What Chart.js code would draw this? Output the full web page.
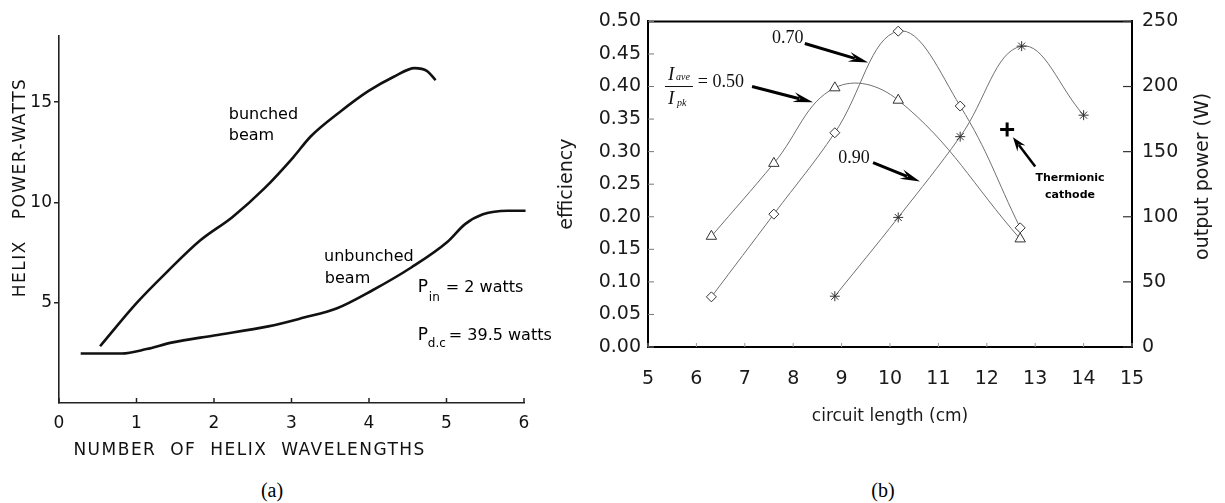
<!DOCTYPE html>
<html>
<head>
<meta charset="utf-8">
<script src="https://cdn.jsdelivr.net/npm/chart.js@4.4.1/dist/chart.umd.min.js"></script>
<style>
  html, body { margin: 0; padding: 0; background: #fff; }
  body { width: 1225px; height: 503px; position: relative; overflow: hidden; }
  #leftWrap { position: absolute; left: 0; top: 0; width: 555px; height: 470px; }
  #rightWrap { position: absolute; left: 555px; top: 0; width: 670px; height: 440px; }
  .cap { position: absolute; top: 479px; font-family: "Liberation Serif", "DejaVu Serif", serif; font-size: 20px; color: #000; transform: translateX(-50%); }
</style>
</head>
<body>
<div id="leftWrap"><canvas id="helixChart"></canvas></div>
<div id="rightWrap"><canvas id="effChart"></canvas></div>
<div class="cap" style="left:272px">(a)</div>
<div class="cap" style="left:883px">(b)</div>

<script>
// (a) helix power vs number of helix wavelengths
const bunchedX   = [0.53, 1.0, 1.41, 1.82, 2.24, 2.65, 3.02, 3.25, 3.62, 3.99, 4.32, 4.59, 4.75, 4.86];
const bunchedY   = [2.83, 4.98, 6.6, 8.1, 9.28, 10.7, 12.24, 13.3, 14.5, 15.55, 16.27, 16.7, 16.55, 16.1];
const unbunchedX = [0.28, 0.81, 1.13, 1.45, 2.0, 2.7, 3.16, 3.58, 4.04, 4.55, 5.01, 5.24, 5.47, 5.79, 6.02, 6.25];
const unbunchedY = [2.47, 2.47, 2.69, 3.01, 3.37, 3.82, 4.26, 4.71, 5.61, 6.77, 8.03, 8.92, 9.41, 9.59, 9.59, 9.46];
const powerTicks = [5, 10, 15];

// (b) efficiency vs circuit length, Iave/Ipk = 0.50 / 0.70 / 0.90
const lengthTri  = [6.31, 7.60, 8.86, 10.17, 12.69];
const effTri     = [0.170, 0.282, 0.398, 0.379, 0.166];
const lengthDia  = [6.31, 7.60, 8.86, 10.17, 11.45, 12.69];
const effDia     = [0.077, 0.204, 0.329, 0.485, 0.370, 0.183];
const lengthStar = [8.86, 10.17, 11.45, 12.72, 14.0];
const effStar    = [0.078, 0.199, 0.323, 0.462, 0.356];
const thermionicLength = [12.42];
const thermionicEff    = [0.334];

const pts = (xs, ys) => xs.map((x, i) => ({ x, y: ys[i] }));

Chart.defaults.font.family = '"DejaVu Sans", sans-serif';
Chart.defaults.color = '#1a1a1a';

// ticks pointing into the plot
const innerTicks = {
  id: 'innerTicks',
  afterDraw(chart, args, opts) {
    const ctx = chart.ctx;
    (opts.items || []).forEach(it => {
      const sc = chart.scales[it.id];
      ctx.save();
      ctx.strokeStyle = it.color;
      ctx.lineWidth = it.width;
      sc.ticks.forEach(t => {
        const p = sc.getPixelForValue(t.value);
        ctx.beginPath();
        if (sc.isHorizontal()) { ctx.moveTo(p, sc.top); ctx.lineTo(p, sc.top - it.len); }
        else if (sc.position === 'left') { ctx.moveTo(sc.right, p); ctx.lineTo(sc.right + it.len, p); }
        else { ctx.moveTo(sc.left, p); ctx.lineTo(sc.left - it.len, p); }
        ctx.stroke();
      });
      ctx.restore();
    });
  }
};

function arrow(ctx, x1, y1, x2, y2, lw, L, W) {
  const a = Math.atan2(y2 - y1, x2 - x1);
  const c = Math.cos(a), s = Math.sin(a);
  ctx.lineWidth = lw;
  ctx.beginPath();
  ctx.moveTo(x1, y1);
  ctx.lineTo(x2 - L * 0.7 * c, y2 - L * 0.7 * s);
  ctx.stroke();
  ctx.beginPath();
  ctx.moveTo(x2, y2);
  ctx.lineTo(x2 - L * c + W * s, y2 - L * s - W * c);
  ctx.lineTo(x2 - L * 0.65 * c, y2 - L * 0.65 * s);
  ctx.lineTo(x2 - L * c - W * s, y2 - L * s + W * c);
  ctx.closePath();
  ctx.fill();
}

// labels for chart (a)
const helixNotes = {
  id: 'helixNotes',
  afterDraw(chart) {
    const { ctx, scales: { x, y } } = chart;
    const X = v => x.getPixelForValue(v), Y = v => y.getPixelForValue(v);
    ctx.save();
    ctx.fillStyle = '#000';
    ctx.textBaseline = 'middle';
    ctx.textAlign = 'left';
    ctx.font = '16px "DejaVu Sans"';
    ctx.fillText('bunched', X(2.19), Y(14.35));
    ctx.fillText('beam', X(2.19), Y(13.3));
    ctx.fillText('unbunched', X(3.42), Y(7.3));
    ctx.fillText('beam', X(3.43), Y(6.2));

    ctx.font = '17px "DejaVu Sans"';
    ctx.fillText('P', X(4.63), Y(5.75));
    ctx.fillText('P', X(4.63), Y(3.35));
    ctx.font = '16px "DejaVu Sans"';
    ctx.fillText('= 2 watts', X(4.63) + 28, Y(5.75));
    ctx.fillText('= 39.5 watts', X(4.63) + 31, Y(3.35));
    ctx.font = '12px "DejaVu Sans"';
    ctx.fillText('in', X(4.63) + 11, Y(5.75) + 10);
    ctx.fillText('d.c', X(4.63) + 10, Y(3.35) + 8);

    // axis titles
    ctx.fillStyle = '#111';
    ctx.font = '17px "DejaVu Sans"';
    ctx.letterSpacing = '1.5px';
    ctx.textAlign = 'center';
    ctx.fillText('NUMBER  OF  HELIX  WAVELENGTHS', X(2.46), x.bottom - 19);
    ctx.translate(y.left + 21, Y(10.75));
    ctx.rotate(-Math.PI / 2);
    ctx.fillText('HELIX   POWER-WATTS', 0, 0);
    ctx.restore();
  }
};

// labels and arrows for chart (b)
const effNotes = {
  id: 'effNotes',
  afterDatasetsDraw(chart) {
    const { ctx, scales: { x, y, y2 } } = chart;
    const X = v => x.getPixelForValue(v), Y = v => y.getPixelForValue(v);
    const area = chart.chartArea;
    ctx.save();
    // top border of the frame
    ctx.strokeStyle = '#000';
    ctx.lineWidth = 2;
    ctx.beginPath();
    ctx.moveTo(area.left - 1, area.top);
    ctx.lineTo(area.right + 1, area.top);
    ctx.stroke();

    ctx.fillStyle = '#111';
    ctx.strokeStyle = '#111';
    ctx.textBaseline = 'middle';
    ctx.textAlign = 'left';
    ctx.font = '18px "Liberation Serif"';
    ctx.fillText('0.70', X(7.56), Y(0.4746));
    ctx.fillText('0.90', X(8.93), Y(0.290));
    ctx.fillText('= 0.50', X(6.03), Y(0.407));

    // I_ave / I_pk fraction
    const fx = X(5.35), fy = Y(0.400);
    ctx.font = 'italic 19px "Liberation Serif"';
    ctx.fillText('I', fx + 3, fy - 12);
    ctx.fillText('I', fx + 3, fy + 12);
    ctx.font = 'italic 10px "Liberation Serif"';
    ctx.fillText('ave', fx + 11, fy - 9);
    ctx.fillText('pk', fx + 12, fy + 17);
    ctx.lineWidth = 1;
    ctx.beginPath();
    ctx.moveTo(fx, fy);
    ctx.lineTo(fx + 28, fy);
    ctx.stroke();

    ctx.fillStyle = '#000';
    ctx.strokeStyle = '#000';
    arrow(ctx, X(8.24), Y(0.466), X(9.55), Y(0.437), 3, 20, 5);
    arrow(ctx, X(7.15), Y(0.400), X(8.41), Y(0.376), 3, 20, 5);
    arrow(ctx, X(9.65), Y(0.283), X(10.62), Y(0.254), 3, 20, 5);
    arrow(ctx, X(13.0), Y(0.277), X(12.54), Y(0.322), 2.5, 14, 5);

    ctx.textAlign = 'center';
    ctx.font = 'bold 11px "DejaVu Sans"';
    ctx.fillText('Thermionic', X(13.72), Y(0.259));
    ctx.fillText('cathode', X(13.72), Y(0.2335));

    // right axis title, read bottom to top
    ctx.fillStyle = '#1a1a1a';
    ctx.font = '19px "DejaVu Sans"';
    ctx.translate(y2.right - 22, y2.getPixelForValue(131));
    ctx.rotate(-Math.PI / 2);
    ctx.fillText('output power (W)', 0, 0);
    ctx.restore();
  }
};

new Chart(document.getElementById('helixChart'), {
  type: 'line',
  data: {
    datasets: [
      { label: 'bunched beam', data: pts(bunchedX, bunchedY), borderColor: '#111', borderWidth: 2.6,
        pointRadius: 0, tension: 0.4, cubicInterpolationMode: 'monotone', clip: false, fill: false },
      { label: 'unbunched beam', data: pts(unbunchedX, unbunchedY), borderColor: '#111', borderWidth: 2.6,
        pointRadius: 0, tension: 0.4, cubicInterpolationMode: 'monotone', clip: false, fill: false }
    ]
  },
  options: {
    responsive: true,
    maintainAspectRatio: false,
    animation: false,
    layout: { padding: { top: 36, right: 31, left: 0, bottom: 0 } },
    plugins: {
      legend: { display: false },
      tooltip: { enabled: false },
      innerTicks: { items: [{ id: 'x', len: 5, width: 1.5, color: '#222' }] }
    },
    scales: {
      x: {
        type: 'linear', min: 0, max: 6,
        afterFit(s) { s.height = 67; },
        ticks: { stepSize: 1, font: { size: 17 }, padding: 10, color: '#111' },
        grid: { drawOnChartArea: false, drawTicks: false },
        border: { color: '#222', width: 1.6 }
      },
      y: {
        type: 'linear', min: 0, max: 18.3,
        afterFit(s) { s.width = 59; },
        afterBuildTicks(s) { s.ticks = powerTicks.map(v => ({ value: v })); },
        ticks: { font: { size: 17 }, padding: 2, color: '#111' },
        grid: { drawOnChartArea: false, drawTicks: true, tickLength: 5, color: '#222', lineWidth: 1.5 },
        border: { color: '#222', width: 1.6 }
      }
    }
  },
  plugins: [innerTicks, helixNotes]
});

const seriesStyle = {
  borderColor: '#707070', borderWidth: 1, tension: 0.4, fill: false,
  pointBorderColor: '#333', pointBackgroundColor: '#fff', pointBorderWidth: 1
};

new Chart(document.getElementById('effChart'), {
  type: 'line',
  data: {
    datasets: [
      { ...seriesStyle, label: '0.50', data: pts(lengthTri, effTri), pointStyle: 'triangle', pointRadius: 6 },
      { ...seriesStyle, label: '0.70', data: pts(lengthDia, effDia), pointStyle: 'rectRot', pointRadius: 5 },
      { ...seriesStyle, label: '0.90', data: pts(lengthStar, effStar), pointStyle: 'star', pointRadius: 5 },
      { label: 'Thermionic cathode', data: pts(thermionicLength, thermionicEff), showLine: false,
        pointStyle: 'cross', pointRadius: 7, pointBorderWidth: 3, pointBorderColor: '#000' }
    ]
  },
  options: {
    responsive: true,
    maintainAspectRatio: false,
    animation: false,
    layout: { padding: { top: 13, right: 0, left: 0, bottom: 0 } },
    plugins: {
      legend: { display: false },
      tooltip: { enabled: false },
      innerTicks: { items: [
        { id: 'x', len: 4, width: 1, color: '#999' },
        { id: 'y', len: 6, width: 1, color: '#777' },
        { id: 'y2', len: 9, width: 1.2, color: '#333' }
      ] }
    },
    scales: {
      x: {
        type: 'linear', min: 5, max: 15,
        afterFit(s) { s.height = 93; },
        ticks: { stepSize: 1, font: { size: 19 }, padding: 21 },
        grid: { drawOnChartArea: false, drawTicks: false },
        border: { color: '#000', width: 2 },
        title: { display: true, text: 'circuit length (cm)', font: { size: 17 }, padding: { bottom: 13 } }
      },
      y: {
        type: 'linear', min: 0, max: 0.5,
        afterFit(s) { s.width = 93; },
        ticks: { stepSize: 0.05, font: { size: 19 }, padding: 7, callback: v => v.toFixed(2) },
        grid: { drawOnChartArea: false, drawTicks: false },
        border: { color: '#000', width: 2 },
        title: { display: true, text: 'efficiency', font: { size: 19 }, padding: { top: 1 } }
      },
      y2: {
        type: 'linear', position: 'right', min: 0, max: 250,
        afterFit(s) { s.width = 93; },
        ticks: { stepSize: 50, font: { size: 19 }, padding: 10 },
        grid: { drawOnChartArea: false, drawTicks: false },
        border: { color: '#000', width: 2 }
      }
    }
  },
  plugins: [innerTicks, effNotes]
});
</script>
</body>
</html>
